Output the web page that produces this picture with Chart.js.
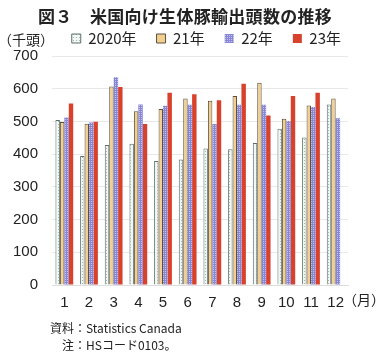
<!DOCTYPE html>
<html>
<head>
<meta charset="utf-8">
<script src="https://cdn.jsdelivr.net/npm/chart.js@4/dist/chart.umd.min.js"></script>
<style>
  html, body { margin: 0; padding: 0; background: #fff; }
  #wrap { position: relative; width: 380px; height: 355px; font-family: "Noto Sans CJK JP", "Noto Sans", sans-serif; color: #222; }
  #chart { position: absolute; left: 0; top: 0; }
  .txt { position: absolute; white-space: nowrap; }
</style>
</head>
<body>
<div id="wrap">
  <canvas id="chart" width="380" height="355"></canvas>
  <div class="txt" style="left:38px; top:3px; font-size:17px; font-weight:bold; letter-spacing:0.3px;">図３　米国向け生体豚輸出頭数の推移</div>
  <div class="txt" style="left:-2px; top:29px; font-size:14px;">（千頭）</div>
  <div class="txt" style="left:343px; top:289px; font-size:14px;">（月）</div>
  <div class="txt" style="left:50px; top:319px; font-size:12px;">資料：Statistics Canada</div>
  <div class="txt" style="left:62px; top:336px; font-size:12px;">注：HSコード0103。</div>
</div>
<script>
const months = ['1', '2', '3', '4', '5', '6', '7', '8', '9', '10', '11', '12'];
const seriesNames = ['2020年', '21年', '22年', '23年'];
const y2020 = [504, 394, 428, 432, 379, 384, 417, 415, 434, 478, 451, 552];
const y2021 = [498, 493, 607, 531, 538, 570, 563, 578, 618, 508, 549, 570];
const y2022 = [512, 497, 635, 552, 548, 551, 492, 551, 551, 501, 544, 510];
const y2023 = [555, 499, 605, 492, 588, 583, 565, 615, 518, 578, 588, null];
const yTicks = [0, 100, 200, 300, 400, 500, 600, 700];

function makePattern(draw, size) {
    const c = document.createElement('canvas');
    c.width = size;
    c.height = size;
    draw(c.getContext('2d'));
    return c.getContext('2d').createPattern(c, 'repeat');
}

const dotFill = makePattern(g => {
    g.fillStyle = '#f1f7f4';
    g.fillRect(0, 0, 3, 3);
    g.fillStyle = '#a3b6b0';
    g.fillRect(1, 1, 1, 1);
}, 3);

const gridFill = makePattern(g => {
    g.fillStyle = '#c4c4ec';
    g.fillRect(0, 0, 2, 2);
    g.fillStyle = '#8686d4';
    g.fillRect(0, 0, 2, 1);
    g.fillRect(0, 0, 1, 2);
}, 2);

// nudge the legend a bit right, the original sits off-centre
const legendShift = {
    id: 'legendShift',
    afterLayout(chart) {
        chart.legend.left += 13;
        chart.legend.right += 13;
    }
};

const ctx = document.getElementById('chart').getContext('2d');
new Chart(ctx, {
    type: 'bar',
    data: {
        labels: months,
        datasets: [
            { label: seriesNames[0], data: y2020, backgroundColor: dotFill, borderColor: '#5d6f69', borderWidth: 1 },
            { label: seriesNames[1], data: y2021, backgroundColor: '#f2cf8f', borderColor: '#5b5040', borderWidth: 1 },
            { label: seriesNames[2], data: y2022, backgroundColor: gridFill, borderColor: '#8a8ad6', borderWidth: 0 },
            { label: seriesNames[3], data: y2023, backgroundColor: '#d8412b', borderColor: '#d8412b', borderWidth: 0 }
        ]
    },
    plugins: [legendShift],
    options: {
        responsive: false,
        animation: false,
        layout: { padding: { top: 11, right: 32, bottom: 34, left: 0 } },
        datasets: { bar: { categoryPercentage: 0.72, barPercentage: 1.0 } },
        plugins: {
            legend: {
                position: 'top',
                align: 'end',
                labels: {
                    boxWidth: 9,
                    boxHeight: 9,
                    padding: 20,
                    color: '#222',
                    font: { family: '"Noto Sans CJK JP", sans-serif', size: 15 }
                }
            },
            tooltip: { enabled: false }
        },
        scales: {
            x: {
                grid: { display: false, drawTicks: false },
                border: { color: '#dddddd' },
                ticks: {
                    color: '#222',
                    padding: 9,
                    maxRotation: 0,
                    autoSkip: false,
                    font: { family: 'Liberation Sans, sans-serif', size: 15 }
                }
            },
            y: {
                min: 0,
                max: 700,
                afterFit: scale => { scale.width = 52; },
                afterBuildTicks: scale => { scale.ticks = yTicks.map(v => ({ value: v })); },
                grid: { color: '#e8e8e8', drawTicks: false },
                border: { display: false },
                ticks: {
                    color: '#222',
                    padding: 14,
                    font: { family: 'Liberation Sans, sans-serif', size: 15 }
                }
            }
        }
    }
});
</script>
</body>
</html>
